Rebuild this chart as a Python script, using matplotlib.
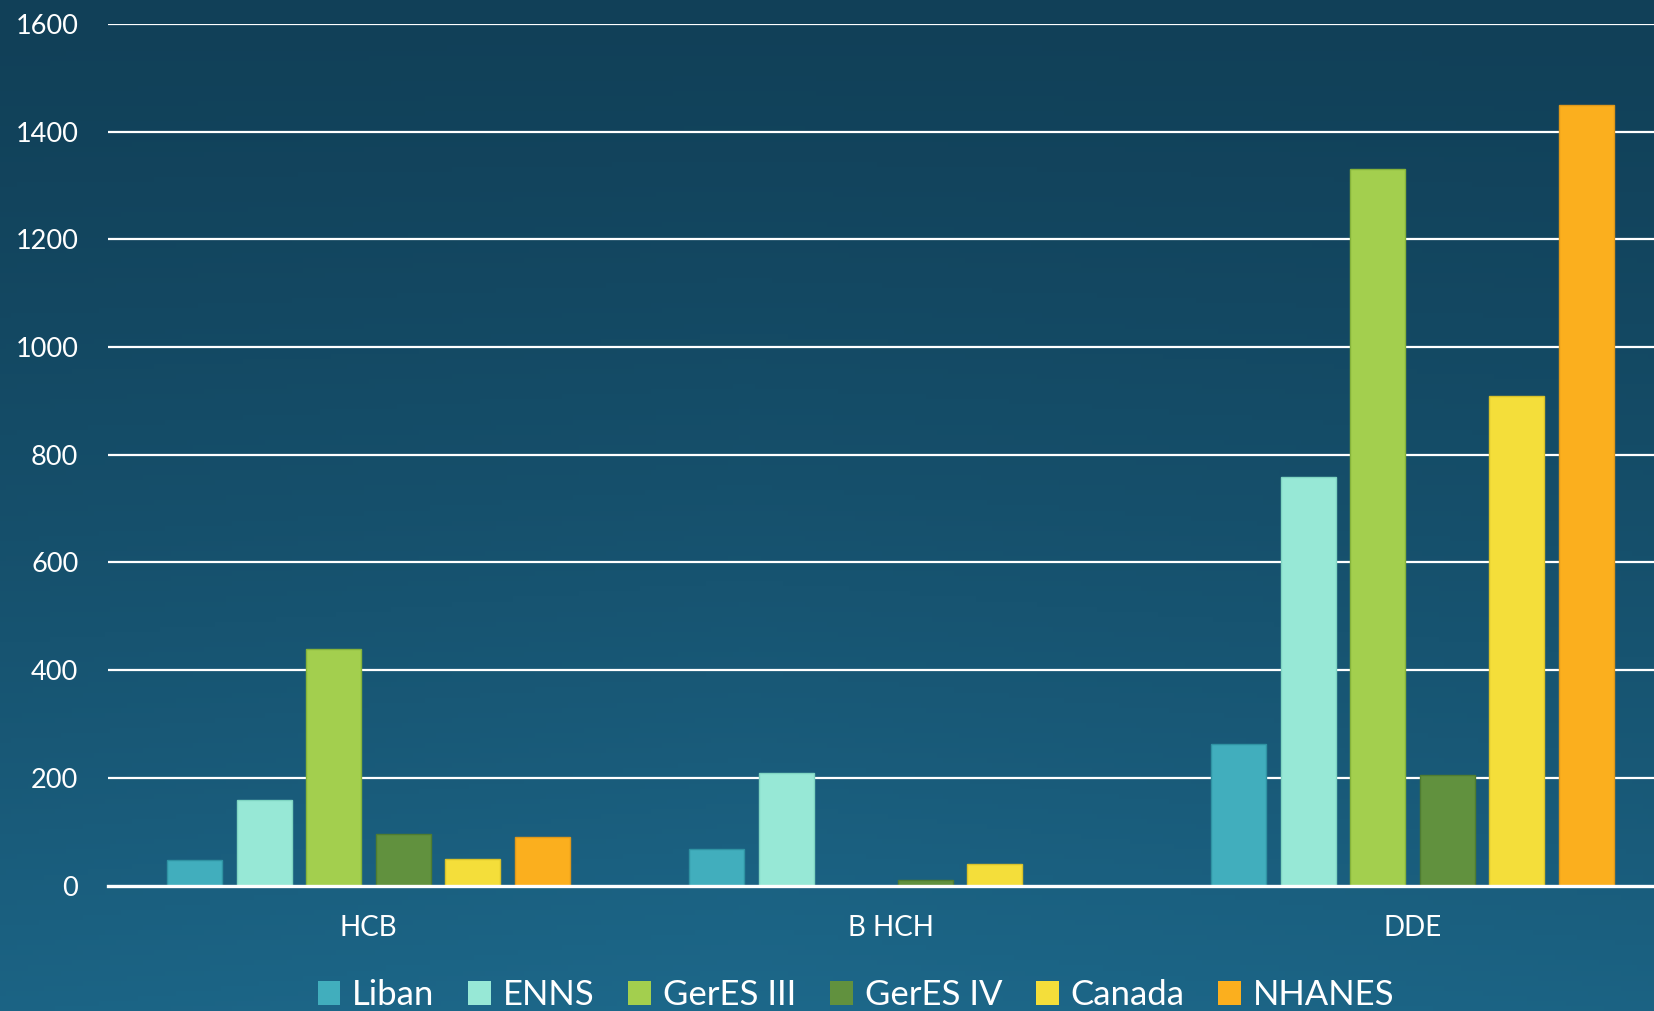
import numpy as np
import matplotlib.pyplot as plt
from matplotlib.patches import Patch

plt.rcParams['font.family'] = ['Lato', 'DejaVu Sans']

categories = ['HCB', 'B HCH', 'DDE']
series = ['Liban', 'ENNS', 'GerES III', 'GerES IV', 'Canada', 'NHANES']
liban = [47, 68, 263]
enns = [159, 209, 759]
geres3 = [440, 0, 1330]
geres4 = [95, 10, 205]
canada = [49, 40, 910]
nhanes = [91, 0, 1450]
values = [liban, enns, geres3, geres4, canada, nhanes]

colors = ['#41aebd', '#97e8d6', '#a3cf4e', '#61913e', '#f4de3a', '#fbaf1e']
edges = ['#2f93a3', '#7fd5c2', '#86b33a', '#4f7c30', '#d9c22a', '#e0981a']

W, H = 1654, 1011
fig = plt.figure(figsize=(W / 100, H / 100), dpi=100)

# background gradient
bg = fig.add_axes([0, 0, 1, 1])
yy, xx = np.mgrid[0:1:200j, 0:1:300j]
t = 0.85 * yy ** 1.3 + 0.15 * yy * (1 - np.abs(xx - 0.45) * 1.6)
t = np.clip(t, 0, 1)
top = np.array([17, 64, 88]) / 255
bot = np.array([29, 104, 138]) / 255
img = top[None, None, :] * (1 - t[..., None]) + bot[None, None, :] * t[..., None]
bg.imshow(img, aspect='auto', extent=[0, 1, 0, 1], origin='upper')
bg.axis('off')

left = 107.5 / W
bottom = (H - 885.5) / H
ax = fig.add_axes([left, bottom, 1566 / W, (885.5 - 24) / H])
ax.patch.set_alpha(0)

x = np.arange(len(categories))
step = 0.1333
bw = 0.105
for i, (name, vals) in enumerate(zip(series, values)):
    ax.bar(x + (i - 2.5) * step, vals, width=bw, color=colors[i],
           edgecolor=edges[i], linewidth=1, zorder=2, label=name)

ax.set_xlim(-0.5, 2.5)
ax.set_ylim(0, 1600)
ax.set_yticks(range(0, 1601, 200))
for v in range(200, 1601, 200):
    ax.axhline(v, color='white', lw=1.6, zorder=1)
ax.axhline(0, color='white', lw=2.4, zorder=3, clip_on=False)

for s in ax.spines.values():
    s.set_visible(False)
ax.tick_params(axis='y', length=0, pad=21, labelsize=19.5, labelcolor='white')
ax.set_xticks(x)
ax.set_xticklabels(categories)
ax.tick_params(axis='x', length=0, pad=21, labelsize=20, labelcolor='white')

handles = [Patch(facecolor=c, edgecolor='none') for c in colors]
fig.legend(handles, series, loc='center', bbox_to_anchor=(856 / W, 1 - 995 / H),
           ncol=6, frameon=False, fontsize=25, labelcolor='white',
           handlelength=0.66, handleheight=0.66, handletextpad=0.33,
           columnspacing=0.98)

plt.savefig('out.png', dpi=100)
